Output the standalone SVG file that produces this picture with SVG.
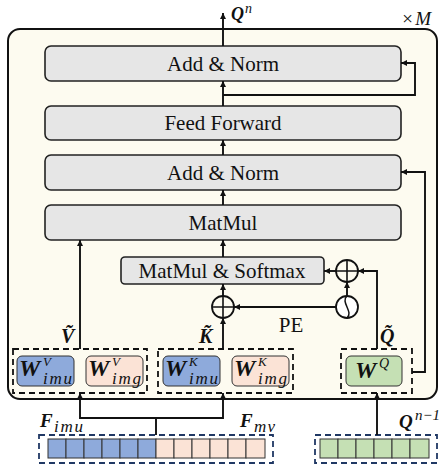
<svg xmlns="http://www.w3.org/2000/svg" width="443" height="466" viewBox="0 0 443 466">
<defs>
<style>
.node{fill:#e6e6e6;stroke:#222;stroke-width:1.6}
.lbl{font-family:"Liberation Serif","Times New Roman",serif;font-size:21px;fill:#111;text-anchor:middle}
.math{font-family:"Liberation Serif","Times New Roman",serif;font-style:italic;font-weight:bold;fill:#111}
.sub{font-family:"Liberation Serif","Times New Roman",serif;font-style:italic;fill:#111}
.conn{fill:none;stroke:#111;stroke-width:1.9}
.dash{fill:none;stroke:#111;stroke-width:1.8;stroke-dasharray:6,4}
.ndash{fill:none;stroke:#203864;stroke-width:1.8;stroke-dasharray:6,4}
.blue{fill:#8eaadb;stroke:#333;stroke-width:1}
.pink{fill:#fbe3d6;stroke:#333;stroke-width:1}
.green{fill:#c5e0b4;stroke:#333;stroke-width:1}
.cell{stroke:#333;stroke-width:1}
</style>
<marker id="ah" markerUnits="userSpaceOnUse" markerWidth="7" markerHeight="6" refX="6" refY="3" orient="auto">
<path d="M0,0 L6,3 L0,6 z" fill="#111"/>
</marker>
</defs>

<rect x="8" y="29" width="429" height="370" rx="12" fill="#fdfbf0" stroke="#111" stroke-width="2"/>
<text x="401" y="25" class="sub" font-size="19" textLength="30">×M</text>

<g id="addnorm1"><rect class="node" x="45" y="46" width="356" height="35" rx="6"/><text class="lbl" x="223" y="71">Add &amp; Norm</text></g>
<g id="feedforward"><rect class="node" x="45" y="106" width="356" height="34" rx="6"/><text class="lbl" x="223" y="130">Feed Forward</text></g>
<g id="addnorm2"><rect class="node" x="45" y="155" width="356" height="35" rx="6"/><text class="lbl" x="223" y="180">Add &amp; Norm</text></g>
<g id="matmul"><rect class="node" x="45" y="205" width="356" height="35" rx="6"/><text class="lbl" x="223" y="230">MatMul</text></g>
<g id="matmulsoftmax"><rect class="node" x="121" y="257" width="203" height="27" rx="4"/><text class="lbl" x="222" y="278">MatMul &amp; Softmax</text></g>

<g id="plusright"><circle cx="347" cy="271" r="11" fill="none" stroke="#111" stroke-width="1.8"/><path d="M336,271 H358 M347,260 V282" stroke="#111" stroke-width="1.6"/></g>
<g id="plusleft"><circle cx="223" cy="307" r="11" fill="none" stroke="#111" stroke-width="1.8"/><path d="M212,307 H234 M223,296 V318" stroke="#111" stroke-width="1.6"/></g>
<g id="sine"><circle cx="347" cy="307" r="11" fill="#fff" stroke="#111" stroke-width="1.8"/><path d="M347,296 C340,302 354,312 347,318" fill="none" stroke="#111" stroke-width="1.5"/></g>
<text x="291" y="332" class="lbl" font-size="19">PE</text>

<g id="vbox">
<rect class="dash" x="13" y="349" width="134" height="44"/>
<rect class="blue" x="17" y="356" width="57" height="30" rx="5"/>
<rect class="pink" x="86" y="356" width="57" height="30" rx="5"/>
<text class="math" x="19" y="376" font-size="24">W</text><text class="sub" x="43" y="366" font-size="13">V</text><text class="sub" x="43" y="384" font-size="17" textLength="29">imu</text>
<text class="math" x="88" y="376" font-size="24">W</text><text class="sub" x="112" y="366" font-size="13">V</text><text class="sub" x="112" y="384" font-size="17" textLength="29">img</text>
</g>
<g id="kbox">
<rect class="dash" x="158" y="349" width="135" height="44"/>
<rect class="blue" x="163" y="356" width="57" height="30" rx="5"/>
<rect class="pink" x="232" y="356" width="57" height="30" rx="5"/>
<text class="math" x="165" y="376" font-size="24">W</text><text class="sub" x="189" y="366" font-size="13">K</text><text class="sub" x="189" y="384" font-size="17" textLength="29">imu</text>
<text class="math" x="234" y="376" font-size="24">W</text><text class="sub" x="258" y="366" font-size="13">K</text><text class="sub" x="258" y="384" font-size="17" textLength="29">img</text>
</g>
<g id="qbox">
<rect class="dash" x="341" y="349" width="71" height="44"/>
<rect class="green" x="346" y="356" width="56" height="30" rx="5"/>
<text class="math" x="355" y="378" font-size="24">W</text><text class="sub" x="379" y="368" font-size="14">Q</text>
</g>

<text class="math" x="61" y="343" font-size="20">Ṽ</text>
<text class="math" x="199" y="343" font-size="20">K̃</text>
<text class="math" x="380" y="343" font-size="20">Q̃</text>

<g id="fvec">
<rect class="ndash" x="39" y="435" width="234" height="28"/>
<g class="cell" fill="#8eaadb">
<rect x="48" y="439" width="18" height="19"/><rect x="66" y="439" width="18" height="19"/><rect x="84" y="439" width="18" height="19"/><rect x="102" y="439" width="18" height="19"/><rect x="120" y="439" width="18" height="19"/><rect x="138" y="439" width="18" height="19"/>
</g>
<g class="cell" fill="#fbe3d6">
<rect x="156" y="439" width="18" height="19"/><rect x="174" y="439" width="18" height="19"/><rect x="192" y="439" width="18" height="19"/><rect x="210" y="439" width="18" height="19"/><rect x="228" y="439" width="18" height="19"/><rect x="246" y="439" width="19" height="19"/>
</g>
<text class="math" x="40" y="427" font-size="19">F</text><text class="sub" x="54" y="432" font-size="17" textLength="29">imu</text>
<text class="math" x="240" y="427" font-size="19">F</text><text class="sub" x="254" y="432" font-size="17" textLength="21">mv</text>
</g>
<g id="qvec">
<rect class="ndash" x="315" y="435" width="122" height="28"/>
<g class="cell" fill="#c5e0b4">
<rect x="320" y="439" width="18" height="19"/><rect x="338" y="439" width="18" height="19"/><rect x="356" y="439" width="18" height="19"/><rect x="374" y="439" width="18" height="19"/><rect x="392" y="439" width="18" height="19"/><rect x="410" y="439" width="19" height="19"/>
</g>
<text class="math" x="399" y="428" font-size="19">Q</text><text class="sub" x="415" y="420" font-size="15">n−1</text>
</g>
<text class="math" x="231" y="20" font-size="18">Q</text><text class="sub" x="245" y="13" font-size="14">n</text>

<g id="connectors">
<path class="conn" d="M223,46 V13" marker-end="url(#ah)"/>
<path class="conn" d="M223,106 V81" marker-end="url(#ah)"/>
<path class="conn" d="M223,95 H415 V63 H401" marker-end="url(#ah)"/>
<path class="conn" d="M223,155 V140" marker-end="url(#ah)"/>
<path class="conn" d="M223,205 V190" marker-end="url(#ah)"/>
<path class="conn" d="M412,372 H425 V172 H401" marker-end="url(#ah)"/>
<path class="conn" d="M223,257 V240" marker-end="url(#ah)"/>
<path class="conn" d="M80,349 V240" marker-end="url(#ah)"/>
<path class="conn" d="M336,271 H324" marker-end="url(#ah)"/>
<path class="conn" d="M377,349 V271 H358" marker-end="url(#ah)"/>
<path class="conn" d="M347,296 V282" marker-end="url(#ah)"/>
<path class="conn" d="M336,307 H234" marker-end="url(#ah)"/>
<path class="conn" d="M223,296 V284" marker-end="url(#ah)"/>
<path class="conn" d="M223,349 V318" marker-end="url(#ah)"/>
<path class="conn" d="M156,435 V418 H80 V393" marker-end="url(#ah)"/>
<path class="conn" d="M156,418 H223 V393" marker-end="url(#ah)"/>
<path class="conn" d="M377,435 V393" marker-end="url(#ah)"/>
</g>
</svg>
